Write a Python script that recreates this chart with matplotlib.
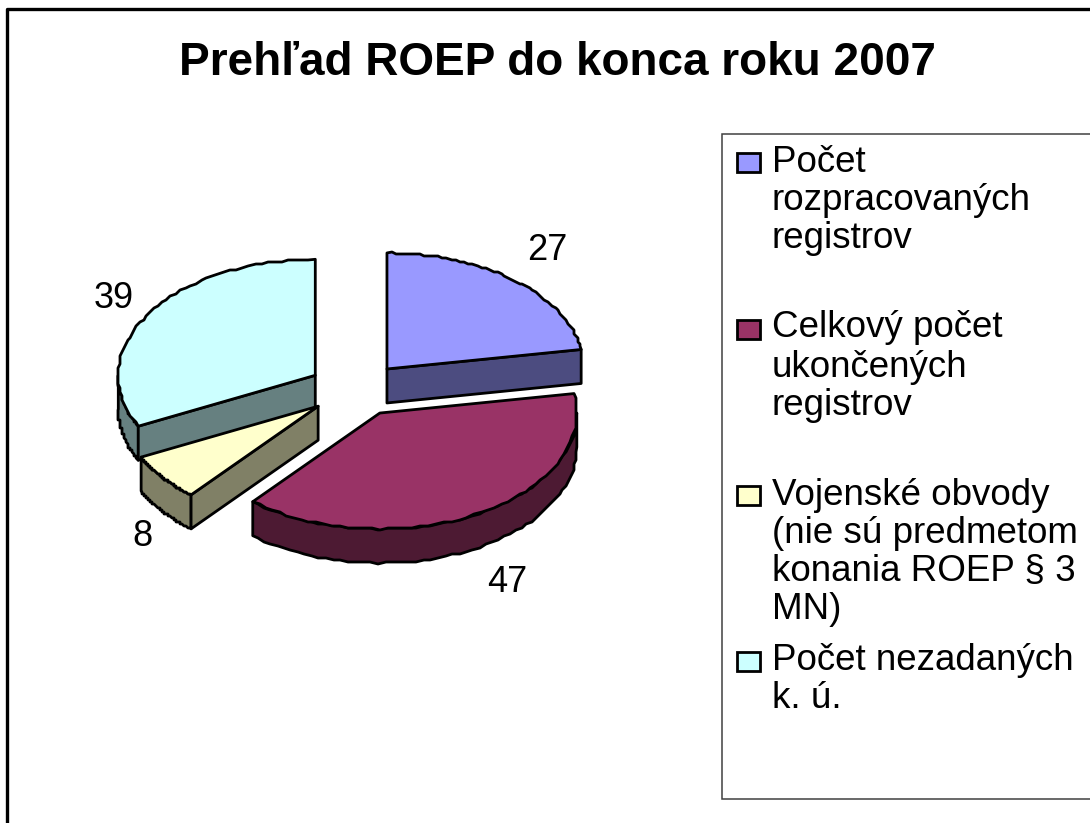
import numpy as np
import matplotlib
matplotlib.use('Agg')
import matplotlib.pyplot as plt
from matplotlib.patches import Polygon, Rectangle

title = 'Prehľad ROEP do konca roku 2007'
values = [27, 47, 8, 39]
legend_labels = [
    ['Počet', 'rozpracovaných', 'registrov'],
    ['Celkový počet', 'ukončených', 'registrov'],
    ['Vojenské obvody', '(nie sú predmetom', 'konania ROEP § 3', 'MN)'],
    ['Počet nezadaných', 'k. ú.'],
]
top_colors = ['#9999FF', '#993366', '#FFFFCC', '#CCFFFF']
side_colors = ['#4C4C80', '#4D1A33', '#808066', '#668080']

plt.rcParams['font.family'] = ['Liberation Sans', 'DejaVu Sans']

# pixel coordinates, y going down
fig = plt.figure(figsize=(10.9, 8.23), dpi=100)
ax = fig.add_axes([0, 0, 1, 1])
ax.set_xlim(0, 1090)
ax.set_ylim(823, 0)
ax.axis('off')

# chart frame, right and bottom edges fall outside the picture
ax.plot([7, 7, 1090], [823, 9, 9], color='black', lw=2.4, solid_capstyle='butt')

ax.text(557, 75, title, ha='center', va='baseline', fontsize=33, fontweight='bold')

# pie geometry
cx, cy = 356, 389.6
ex, ey = 48, 27
a, b = 197, 116
depth = 34
lw = 2.0


def arc(x0, y0, t0, t1):
    t = np.radians(np.linspace(t0, t1, 60))
    pts = np.column_stack([x0 + a * np.sin(t), y0 - b * np.cos(t)])
    # the outline of the original is slightly stepped, not smooth
    pts[1:-1] = np.round(pts[1:-1] / 2) * 2
    return pts


def draw_wall(pts, color, z):
    low = pts[::-1] + [0, depth]
    ax.add_patch(Polygon(np.vstack([pts, low]), closed=True, fc=color, ec='black',
                         lw=lw, joinstyle='round', zorder=z))


angles = np.cumsum([0] + values) / sum(values) * 360
order = {3: 1, 0: 2, 2: 3, 1: 4}

for i in range(len(values)):
    t0, t1 = angles[i], angles[i + 1]
    mid = np.radians((t0 + t1) / 2)
    x0 = cx + ex * np.sin(mid)
    y0 = cy - ey * np.cos(mid)
    z = order[i]

    # outer wall, only the front half of the ellipse shows
    lo, hi = max(t0, 90), min(t1, 270)
    if lo < hi:
        draw_wall(arc(x0, y0, lo, hi), side_colors[i], z)
    # cut faces
    if np.sin(np.radians(t0)) < -1e-6:
        draw_wall(np.vstack([[x0, y0], arc(x0, y0, t0, t0)[:1]]), side_colors[i], z)
    if np.sin(np.radians(t1)) > 1e-6:
        draw_wall(np.vstack([[x0, y0], arc(x0, y0, t1, t1)[:1]]), side_colors[i], z)

    top = np.vstack([[x0, y0], arc(x0, y0, t0, t1)])
    ax.add_patch(Polygon(top, closed=True, fc=top_colors[i], ec='black', lw=lw,
                         joinstyle='round', zorder=z))

# data labels
label_x = [547, 507, 142, 114]
label_y = [250, 582, 537, 298]
for v, x, y in zip(values, label_x, label_y):
    ax.text(x, y, str(v), ha='center', va='center', fontsize=26)

# legend
ax.add_patch(Rectangle((722, 134), 400, 665, fc='white', ec='#404040', lw=1.1, zorder=5))
swatch_y = [153, 320, 486, 652]
line_y = [[172, 210, 248], [337, 377, 415], [505, 543, 581, 619], [670, 708]]
for lines, ys, sy, c in zip(legend_labels, line_y, swatch_y, top_colors):
    ax.add_patch(Rectangle((737, sy), 23, 19, fc=c, ec='black', lw=2.0, zorder=6))
    for s, y in zip(lines, ys):
        ax.text(772, y, s, ha='left', va='baseline', fontsize=26.5, zorder=6)

fig.savefig('out.png', dpi=100)
